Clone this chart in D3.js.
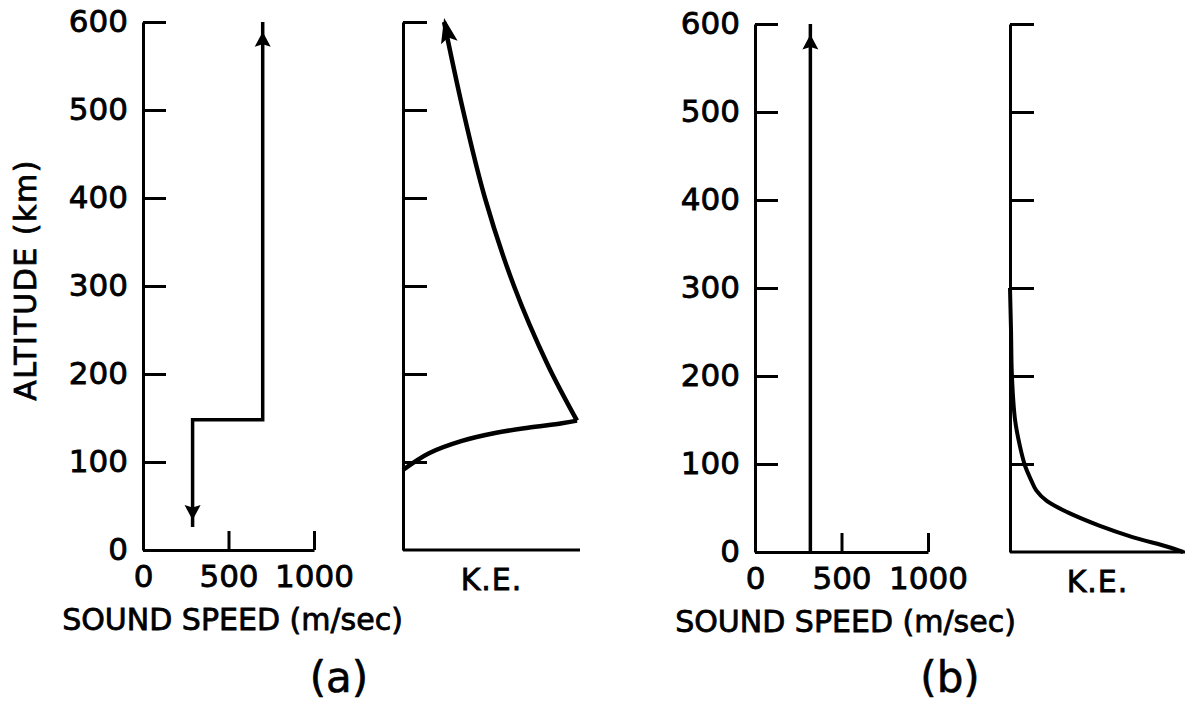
<!DOCTYPE html>
<meta charset="utf-8">
<html>
<head>
<style>
body { margin: 0; background: #fff; }
svg text { font-family: "DejaVu Sans", sans-serif; fill: #000; stroke: #000; stroke-width: 0.8px; }
.axis text { font-size: 31px; }
.axis path, .axis line { stroke: #000; stroke-width: 3px; }
.lbl { font-size: 30px; }
</style>
<script src="https://d3js.org/d3.v7.min.js"></script>
</head>
<body>
<script>

// ticks
var altTicks = [0, 100, 200, 300, 400, 500, 600];
var speedTicks = [0, 500, 1000];
var keTicks = [100, 200, 300, 400, 500, 600];

// sound speed profiles [speed m/s, altitude km]
var soundA = [[700, 600], [700, 148], [290, 148], [290, 26]];
var soundB = [[320, 0], [320, 600]];

// arrowheads on the sound speed profiles
var arrowsA = [{speed: 700, alt: 589, dir: "up"}, {speed: 290, alt: 34, dir: "down"}];
var arrowsB = [{speed: 320, alt: 588, dir: "up"}];

// kinetic energy profiles [K.E. (relative), altitude km]
var keALower = [[0, 91], [0.147, 110], [0.333, 124], [0.52, 133], [0.706, 139], [0.898, 144], [0.983, 147]];
var keAUpper = [[0.983, 147], [0.814, 212], [0.627, 300], [0.463, 400], [0.339, 500], [0.232, 600]];
var keB = [[0, 300], [0.006, 250], [0.011, 200], [0.029, 150], [0.057, 120], [0.086, 98], [0.12, 82],
           [0.15, 70], [0.21, 58], [0.33, 45], [0.51, 30], [0.70, 17], [0.90, 6], [0.99, 0]];

var svg = d3.select("body").append("svg")
    .attr("width", 1188)
    .attr("height", 708);

var arrowPath = "M0,0 L8,15 L0,12.5 L-8,15 Z";

function speedPanel(x, y, profile, arrows) {
  var g = svg.append("g");

  g.append("g").attr("class", "axis")
    .attr("transform", "translate(" + x(0) + ",0)")
    .call(d3.axisLeft(y).tickValues(altTicks).tickSize(-23).tickSizeOuter(0).tickPadding(15));

  g.append("g").attr("class", "axis")
    .attr("transform", "translate(0," + y(0) + ")")
    .call(d3.axisBottom(x).tickValues(speedTicks).tickFormat(d3.format("d"))
      .tickSize(-19).tickSizeOuter(0).tickPadding(15));

  g.append("path")
    .datum(profile)
    .attr("d", d3.line().x(function(d) { return x(d[0]); }).y(function(d) { return y(d[1]); }))
    .attr("fill", "none")
    .attr("stroke", "black")
    .attr("stroke-width", 3.5)
    .attr("stroke-linejoin", "miter");

  g.selectAll(".arrow")
    .data(arrows)
    .enter()
    .append("path")
      .attr("d", arrowPath)
      .attr("transform", function(d) {
        return "translate(" + x(d.speed) + "," + y(d.alt) + ") rotate(" + (d.dir == "up" ? 0 : 180) + ")";
      })
      .attr("fill", "black");

  g.append("text").attr("class", "lbl")
    .attr("x", (x(0) + x(1000)) / 2 + 4)
    .attr("y", y(0) + 80)
    .attr("text-anchor", "middle")
    .text("SOUND SPEED (m/sec)");
}

function kePanel(x, y, curves, width, arrowEnd) {
  var g = svg.append("g");

  g.append("g").attr("class", "axis")
    .attr("transform", "translate(" + x(0) + ",0)")
    .call(d3.axisRight(y).tickValues(keTicks).tickSize(24).tickSizeOuter(0).tickFormat(""));

  g.append("line")
    .attr("x1", x(0)).attr("x2", x(1))
    .attr("y1", y(0)).attr("y2", y(0))
    .attr("stroke", "black").attr("stroke-width", 3);

  var line = d3.line()
    .x(function(d) { return x(d[0]); })
    .y(function(d) { return y(d[1]); })
    .curve(d3.curveCatmullRom.alpha(0.5));

  curves.forEach(function(c) {
    g.append("path")
      .datum(c)
      .attr("d", line)
      .attr("fill", "none")
      .attr("stroke", "black")
      .attr("stroke-width", width)
      .attr("stroke-linejoin", "miter")
      .attr("stroke-miterlimit", 20);
  });

  if (arrowEnd) {
    var n = arrowEnd.length;
    var p0 = arrowEnd[n - 2], p1 = arrowEnd[n - 1];
    var ang = Math.atan2(x(p1[0]) - x(p0[0]), y(p0[1]) - y(p1[1])) * 180 / Math.PI;
    g.append("path")
      .attr("d", "M0,0 L8.5,25 L0,20 L-8.5,25 Z")
      .attr("transform", "translate(" + x(p1[0]) + "," + (y(p1[1]) - 4) + ") rotate(" + ang + ")")
      .attr("fill", "black");
  }

  g.append("text").attr("class", "lbl")
    .attr("x", (x(0) + x(1)) / 2)
    .attr("y", y(0) + 40)
    .attr("text-anchor", "middle")
    .style("letter-spacing", "1px")
    .text("K.E.");
}

// panel (a)
var yA = d3.scaleLinear().domain([0, 600]).range([550, 22]);
var xA = d3.scaleLinear().domain([0, 1000]).range([143, 314]);
var keXA = d3.scaleLinear().domain([0, 1]).range([403, 580]);
speedPanel(xA, yA, soundA, arrowsA);
kePanel(keXA, yA, [keALower, keAUpper], 4.5, keAUpper);

// panel (b)
var yB = d3.scaleLinear().domain([0, 600]).range([552, 24]);
var xB = d3.scaleLinear().domain([0, 1000]).range([755, 928]);
var keXB = d3.scaleLinear().domain([0, 1]).range([1010, 1185]);
speedPanel(xB, yB, soundB, arrowsB);
kePanel(keXB, yB, [keB], 4, null);

// y axis title
svg.append("text").attr("class", "lbl")
  .attr("transform", "translate(36,280) rotate(-90)")
  .attr("text-anchor", "middle")
  .style("letter-spacing", "1.5px")
  .text("ALTITUDE (km)");

// panel letters
svg.append("text")
  .attr("x", 339).attr("y", 692)
  .attr("text-anchor", "middle")
  .style("font-size", "42px")
  .style("stroke-width", "0.6px")
  .text("(a)");

svg.append("text")
  .attr("x", 950).attr("y", 692)
  .attr("text-anchor", "middle")
  .style("font-size", "42px")
  .style("stroke-width", "0.6px")
  .text("(b)");

</script>
</body>
</html>
